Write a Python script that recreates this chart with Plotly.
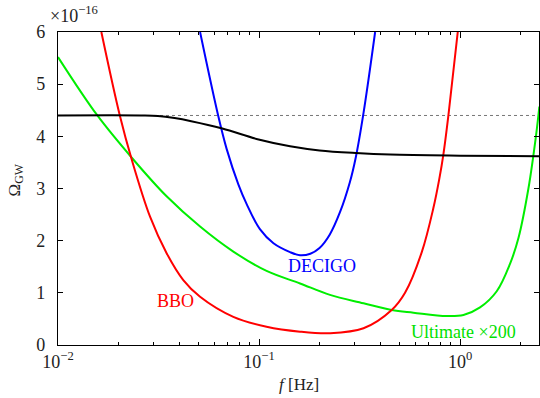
import math
import plotly.graph_objects as go

# ---- data ----
f_black = [0.01, 0.0259, 0.0314, 0.038, 0.046, 0.0657, 0.0995, 0.1427, 0.2, 0.303, 0.449, 1.0, 2.47]
y_black = [4.40, 4.40, 4.39, 4.35, 4.29, 4.15, 3.94, 3.81, 3.73, 3.68, 3.65, 3.63, 3.62]

f_ref = [0.01, 2.47]
y_ref = [4.40, 4.40]

f_decigo = [0.0509, 0.0627, 0.069, 0.0789, 0.0868, 0.101, 0.118, 0.1427, 0.16, 0.18, 0.2, 0.225, 0.253, 0.283, 0.303, 0.331, 0.378]
y_decigo = [6.0, 4.39, 3.76, 3.08, 2.70, 2.22, 1.95, 1.78, 1.72, 1.75, 1.86, 2.12, 2.55, 3.12, 3.60, 4.45, 6.0]

f_bbo = [0.01643, 0.0203, 0.02325, 0.0287, 0.0347, 0.042, 0.0509, 0.0745, 0.109, 0.16, 0.2254, 0.331, 0.457, 0.5325, 0.645, 0.7362, 0.788, 0.826, 0.875, 0.974]
y_bbo = [6.0, 4.4, 3.56, 2.46, 1.76, 1.245, 0.925, 0.54, 0.35, 0.255, 0.225, 0.32, 0.67, 1.0, 1.78, 2.62, 3.18, 3.65, 4.4, 6.0]

f_ult = [0.01, 0.0157, 0.0234, 0.0347, 0.0509, 0.0745, 0.109, 0.16, 0.2254, 0.331, 0.457, 0.586, 0.859, 1.04, 1.257, 1.522, 1.774, 1.952, 2.188, 2.39, 2.48]
y_ult = [5.52, 4.40, 3.58, 2.85, 2.27, 1.79, 1.42, 1.18, 0.96, 0.80, 0.67, 0.62, 0.555, 0.575, 0.72, 1.03, 1.56, 2.05, 3.0, 4.03, 4.57]

x_tickvals = [0.01, 0.1, 1]
x_ticktext = ["10<sup>−2</sup>", "10<sup>−1</sup>", "10<sup>0</sup>"]
y_tickvals = [0, 1, 2, 3, 4, 5, 6]

labels = [("BBO", 0.0382, 0.84, "#ff0000"),
          ("DECIGO", 0.205, 1.51, "#0000ff"),
          ("Ultimate ×200", 1.04, 0.255, "#00e000")]

FONT = "Times New Roman, Liberation Serif, DejaVu Serif, serif"
TXT = "#222222"

fig = go.Figure()
fig.add_trace(go.Scatter(x=f_ref, y=y_ref, mode="lines",
                         line=dict(color="#777777", width=1, dash="dot")))
fig.add_trace(go.Scatter(x=f_ult, y=y_ult, mode="lines",
                         line=dict(color="#00ee00", width=2, shape="spline", smoothing=1.0)))
fig.add_trace(go.Scatter(x=f_bbo, y=y_bbo, mode="lines",
                         line=dict(color="#ff0000", width=2, shape="spline", smoothing=1.0)))
fig.add_trace(go.Scatter(x=f_decigo, y=y_decigo, mode="lines",
                         line=dict(color="#0000ff", width=2, shape="spline", smoothing=1.0)))
fig.add_trace(go.Scatter(x=f_black, y=y_black, mode="lines",
                         line=dict(color="#000000", width=2, shape="spline", smoothing=1.0)))

for txt, fx, fy, col in labels:
    fig.add_annotation(x=math.log10(fx), y=fy, xref="x", yref="y", text=txt, showarrow=False,
                       font=dict(family=FONT, size=18, color=col))

minor_x = [m * 10 ** e for e in (-2, -1, 0) for m in range(2, 10) if m * 10 ** e < 2.47]

fig.update_xaxes(type="log", range=[-2, 0.3927],
                 tickvals=x_tickvals, ticktext=x_ticktext,
                 ticks="inside", ticklen=6, tickcolor="#000", ticklabelstandoff=0,
                 minor=dict(tickvals=minor_x, ticks="inside", ticklen=3, tickcolor="#000"),
                 showline=True, linecolor="#000", linewidth=1.3, mirror="ticks",
                 showgrid=False, zeroline=False,
                 tickfont=dict(family=FONT, size=18, color=TXT))
fig.update_yaxes(range=[0, 6], tickvals=y_tickvals,
                 ticks="inside", ticklen=5, tickcolor="#000", ticklabelstandoff=8,
                 showline=True, linecolor="#000", linewidth=1.3, mirror="ticks",
                 showgrid=False, zeroline=False,
                 tickfont=dict(family=FONT, size=18, color=TXT))

# axis titles and exponent note
fig.add_annotation(x=0.5, y=0, xref="paper", yref="paper", yanchor="middle", yshift=-39,
                   text="<i>f</i> [Hz]", showarrow=False,
                   font=dict(family=FONT, size=17, color=TXT))
fig.add_annotation(x=0, y=0.5, xref="paper", yref="paper", xanchor="center", xshift=-43, yshift=8,
                   text="Ω<sub>GW</sub>", textangle=-90, showarrow=False,
                   font=dict(family=FONT, size=17, color=TXT))
fig.add_annotation(x=0, y=1, xref="paper", yref="paper", xanchor="left", yanchor="bottom",
                   xshift=-10, yshift=4, text="×10<sup>−16</sup>", showarrow=False,
                   font=dict(family=FONT, size=18, color=TXT))

fig.update_layout(width=540, height=398, showlegend=False,
                  margin=dict(l=58, r=1, t=32, b=53),
                  plot_bgcolor="white", paper_bgcolor="white")

fig.write_html("out.html", config={"displayModeBar": False},
               post_script="document.body.style.margin='0';")
